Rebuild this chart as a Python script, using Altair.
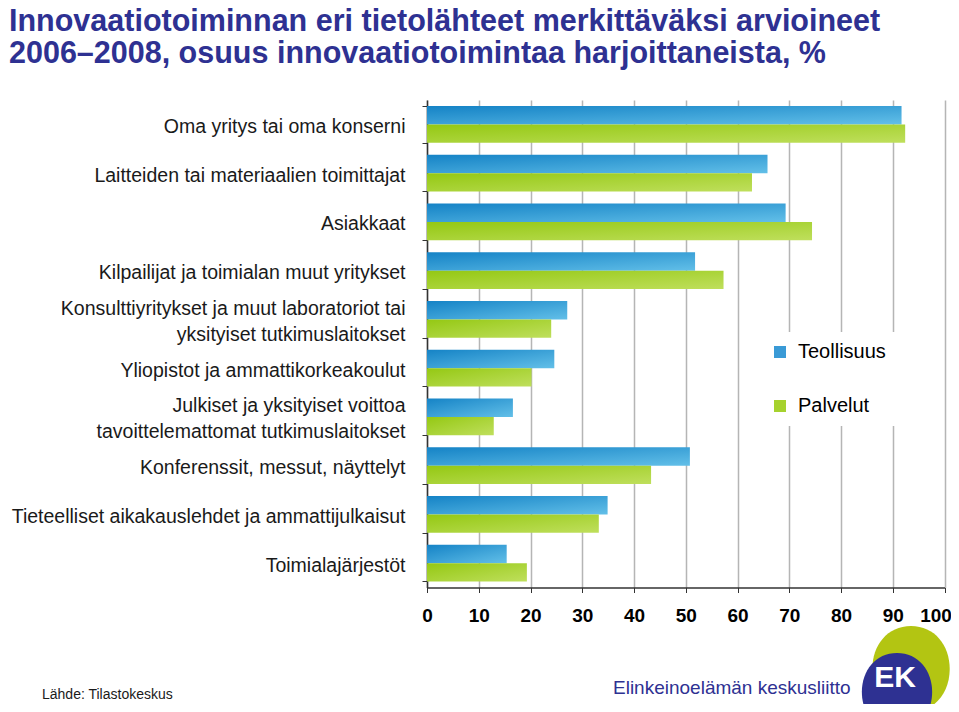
import altair as alt
import pandas as pd

# ---- data ----
categories = [
    "Oma yritys tai oma konserni",
    "Laitteiden tai materiaalien toimittajat",
    "Asiakkaat",
    "Kilpailijat ja toimialan muut yritykset",
    "Konsulttiyritykset ja muut laboratoriot tai|yksityiset tutkimuslaitokset",
    "Yliopistot ja ammattikorkeakoulut",
    "Julkiset ja yksityiset voittoa|tavoittelemattomat tutkimuslaitokset",
    "Konferenssit, messut, näyttelyt",
    "Tieteelliset aikakauslehdet ja ammattijulkaisut",
    "Toimialajärjestöt",
]
teollisuus = [91.7, 65.8, 69.3, 51.8, 27.1, 24.6, 16.6, 50.8, 34.9, 15.4]
palvelut = [92.4, 62.8, 74.4, 57.3, 24.0, 20.2, 12.9, 43.3, 33.2, 19.3]
series = ["Teollisuus", "Palvelut"]
x_ticks = [0, 10, 20, 30, 40, 50, 60, 70, 80, 90, 100]

title_line1 = "Innovaatiotoiminnan eri tietolähteet merkittäväksi arvioineet"
title_line2 = "2006–2008, osuus innovaatiotoimintaa harjoittaneista, %"
source_text = "Lähde: Tilastokeskus"
org_text = "Elinkeinoelämän keskusliitto"

rows = []
for c, t, p in zip(categories, teollisuus, palvelut):
    rows.append({"Kategoria": c, "Sarja": series[0], "Arvo": t})
    rows.append({"Kategoria": c, "Sarja": series[1], "Arvo": p})
df = pd.DataFrame(rows)

FONT = "Liberation Sans, Arial, sans-serif"
NAVY = "#2e3192"

x_enc = alt.X(
    "Arvo:Q",
    scale=alt.Scale(domain=[0, 100], nice=False),
    axis=alt.Axis(
        values=x_ticks, title=None, grid=True, gridColor="#b5b5b5", gridWidth=1.5,
        domainColor="#333333", domainWidth=1.5, tickColor="#333333", tickSize=5,
        labelFont=FONT, labelFontSize=19, labelFontWeight="bold", labelColor="#000000",
        labelPadding=14, labelFlush=False,
        labelOffset={"condition": {"test": "datum.value >= 100", "value": -9}, "value": 0},
    ),
)
y_enc = alt.Y(
    "Kategoria:N",
    sort=categories,
    scale=alt.Scale(paddingInner=0.25, paddingOuter=0.125),
    axis=alt.Axis(
        title=None, tickBand="extent", domainColor="#333333", domainWidth=1.5,
        tickColor="#333333", tickSize=5, labelFont=FONT, labelFontSize=19.5,
        labelColor="#1a1a1a", labelPadding=17, labelLimit=600,
        labelExpr="split(datum.label, '|')", labelLineHeight=26,
        labelOffset={"condition": {"test": "indexof(datum.label, '|') >= 0", "value": -11},
                     "value": 2},
    ),
)
yoff_enc = alt.YOffset("Sarja:N", scale=alt.Scale(domain=series, paddingInner=0, paddingOuter=0))

blue_grad = alt.Gradient(
    gradient="linear",
    stops=[alt.GradientStop(color="#1583c6", offset=0), alt.GradientStop(color="#62bfe8", offset=1)],
    x1=0, y1=0, x2=1, y2=1,
)
green_grad = alt.Gradient(
    gradient="linear",
    stops=[alt.GradientStop(color="#94c813", offset=0), alt.GradientStop(color="#bfdf5c", offset=1)],
    x1=0, y1=0, x2=1, y2=1,
)

base = alt.Chart(df)

bars_t = base.transform_filter(alt.datum.Sarja == series[0]).mark_bar(color=blue_grad).encode(
    x=x_enc, y=y_enc, yOffset=yoff_enc
)
bars_p = base.transform_filter(alt.datum.Sarja == series[1]).mark_bar(color=green_grad).encode(
    x=x_enc, y=y_enc, yOffset=yoff_enc
)

legend_layer = base.mark_square(opacity=0).encode(
    x=x_enc, y=y_enc, yOffset=yoff_enc,
    color=alt.Color(
        "Sarja:N",
        scale=alt.Scale(domain=series, range=["#3a9ad6", "#a6d22e"]),
        legend=alt.Legend(
            title=None, orient="none", legendX=333, legendY=232, fillColor="white",
            padding=10, symbolType="square", symbolSize=144, symbolOpacity=1,
            symbolStrokeWidth=0, labelFont=FONT, labelFontSize=20, labelColor="#000000",
            rowPadding=34, labelOffset=8,
        ),
    ),
)

one = pd.DataFrame({"a": [0]})

title1 = alt.Chart(one).mark_text(
    font=FONT, fontSize=30.5, fontWeight="bold", color=NAVY, align="left", baseline="alphabetic"
).encode(x=alt.value(-418), y=alt.value(-69), text=alt.value(title_line1))
title2 = alt.Chart(one).mark_text(
    font=FONT, fontSize=30.5, fontWeight="bold", color=NAVY, align="left", baseline="alphabetic"
).encode(x=alt.value(-418), y=alt.value(-37), text=alt.value(title_line2))

source = alt.Chart(one).mark_text(
    font=FONT, fontSize=14, color="#1a1a1a", align="left", baseline="middle"
).encode(x=alt.value(-385), y=alt.value(595), text=alt.value(source_text))

org = alt.Chart(one).mark_text(
    font=FONT, fontSize=19, color=NAVY, align="left", baseline="middle"
).encode(x=alt.value(186), y=alt.value(588), text=alt.value(org_text))

ellipse = ("M0,-1 C0.55,-1 0.9,-0.55 0.9,0 C0.9,0.55 0.55,1 0,1 "
           "C-0.55,1 -0.9,0.55 -0.9,0 C-0.9,-0.55 -0.55,-1 0,-1 Z")
logo_green = alt.Chart(one).mark_point(
    shape=ellipse, filled=True, fill="#b3c512", strokeWidth=0, opacity=1
).encode(x=alt.value(484), y=alt.value(569), size=alt.value(7400))
logo_navy = alt.Chart(one).mark_point(
    shape=ellipse, filled=True, fill=NAVY, strokeWidth=0, opacity=1
).encode(x=alt.value(470), y=alt.value(592), size=alt.value(6100))
logo_text = alt.Chart(one).mark_text(
    font=FONT, fontSize=30, fontWeight="bold", color="white", align="center", baseline="middle"
).encode(x=alt.value(468), y=alt.value(578), text=alt.value("EK"))

chart = alt.layer(
    bars_t, bars_p, legend_layer, title1, title2, source, org, logo_green, logo_navy, logo_text
).properties(
    width=517.5,
    height=487.5,
    padding={"left": 419, "top": 92, "right": 6, "bottom": 116},
    autosize=alt.AutoSizeParams(type="none"),
).configure_view(stroke=None)

chart.save("out.html", embed_options={"renderer": "svg", "actions": False})
